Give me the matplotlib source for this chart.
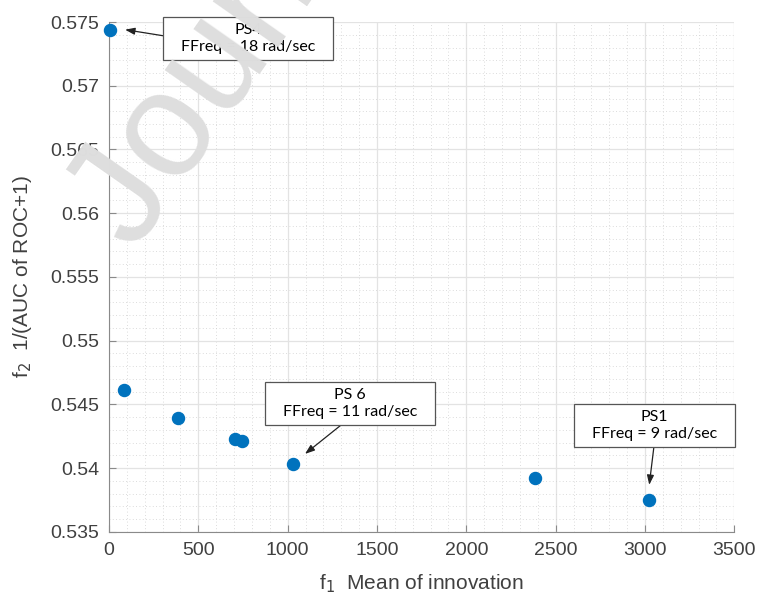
import matplotlib
matplotlib.use("Agg")
import matplotlib.pyplot as plt
from matplotlib.path import Path
from matplotlib.ticker import MultipleLocator, FormatStrFormatter

# Pareto front: f1 = mean of innovation, f2 = 1/(AUC of ROC + 1)
f1_mean_innovation = [5, 84, 386, 705, 745, 1030, 2385, 3024]
f2_inv_auc = [0.5744, 0.5461, 0.5439, 0.5423, 0.5421, 0.5403, 0.5392, 0.5375]

# annotated solutions: label, point it refers to, centre of its text box
ann_labels = ["PS4\nFFreq = 18 rad/sec", "PS 6\nFFreq = 11 rad/sec",
              "PS1\nFFreq = 9 rad/sec"]
ann_points = [(90, 0.5744), (1097, 0.54112), (3024, 0.53869)]
ann_boxes = [(778, 0.5737), (1349, 0.54509), (3054, 0.54336)]
ann_relpos = [(0.0, 0.5), (0.49, 0.0), (0.5, 0.0)]


def wide_box(x0, y0, width, height, mutation_size):
    # rectangle with more padding left/right than top/bottom
    padx = 1.1 * mutation_size
    pady = 0.35 * mutation_size
    x0, y0 = x0 - padx, y0 - pady
    x1, y1 = x0 + width + 2 * padx, y0 + height + 2 * pady
    return Path([(x0, y0), (x1, y0), (x1, y1), (x0, y1), (x0, y0)],
                closed=True)


plt.rcParams["font.family"] = ["Liberation Sans", "DejaVu Sans"]

fig = plt.figure(figsize=(7.57, 5.95), dpi=100)
ax = fig.add_axes([0.144, 0.106, 0.826, 0.857])

ax.scatter(f1_mean_innovation, f2_inv_auc, s=75, color="#0072BD",
           zorder=3, clip_on=False)

ax.set_xlim(0, 3500)
ax.set_ylim(0.535, 0.575)
ax.xaxis.set_major_locator(MultipleLocator(500))
ax.xaxis.set_minor_locator(MultipleLocator(100))
ax.yaxis.set_major_locator(MultipleLocator(0.005))
ax.yaxis.set_minor_locator(MultipleLocator(0.001))
ax.yaxis.set_major_formatter(FormatStrFormatter("%g"))

ax.grid(which="major", color="#e3e3e3", linewidth=0.9)
ax.grid(which="minor", color="#d0d0d0", linestyle=(0, (1, 3)), linewidth=0.6)
ax.set_axisbelow(True)

for side in ["top", "right"]:
    ax.spines[side].set_visible(False)
for side in ["left", "bottom"]:
    ax.spines[side].set_color("#8a8a8a")
ax.tick_params(which="major", direction="in", length=5, color="#8a8a8a",
               labelsize=14, labelcolor="#404040", pad=7)
ax.tick_params(which="minor", length=0)

ax.set_xlabel(r"f$_1$  Mean of innovation", fontsize=15, color="#404040",
              labelpad=10)
ax.set_ylabel(r"f$_2$  1/(AUC of ROC+1)", fontsize=15, color="#404040",
              labelpad=12)

for lab, pt, bx, rp in zip(ann_labels, ann_points, ann_boxes, ann_relpos):
    ax.annotate(lab, xy=pt, xytext=bx, ha="center", va="center",
                fontsize=11.5, family=["Lato", "DejaVu Sans"], linespacing=1.3,
                annotation_clip=False, zorder=5,
                bbox=dict(boxstyle=wide_box, fc="white",
                          ec="#555555", lw=0.9),
                arrowprops=dict(arrowstyle="-|>,head_length=0.5,head_width=0.18",
                                color="#222222", lw=0.9, relpos=rp,
                                shrinkA=0, shrinkB=0))

# journal pre-proof watermark
fig.text(0.178, 0.575, "Journal Pre-proof", rotation=55,
         rotation_mode="anchor", ha="left", va="baseline",
         fontsize=108, color="#dedede", zorder=10)

fig.savefig("out.png", dpi=100)
